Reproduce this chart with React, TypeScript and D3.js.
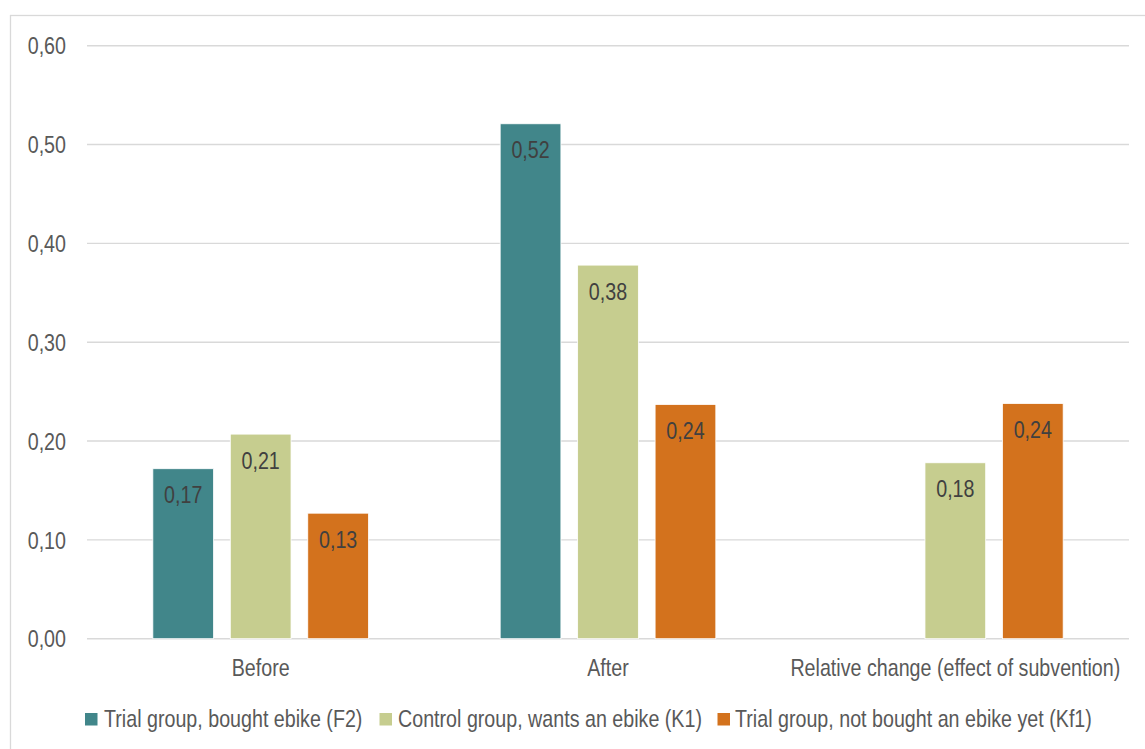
import React from "react";
import * as d3 from "d3";

const categories = ["Before", "After", "Relative change (effect of subvention)"];
const seriesNames = [
  "Trial group, bought ebike (F2)",
  "Control group, wants an ebike (K1)",
  "Trial group, not bought an ebike yet (Kf1)",
];
const seriesColors = ["#41868A", "#C6CD8F", "#D3721D"];
// values per series, one per category (null = no bar)
const trialBought: (number | null)[] = [0.172, 0.521, null];
const controlWants: (number | null)[] = [0.207, 0.378, 0.178];
const trialNotBought: (number | null)[] = [0.127, 0.237, 0.238];
const seriesValues = [trialBought, controlWants, trialNotBought];
const yTicks = [0, 0.1, 0.2, 0.3, 0.4, 0.5, 0.6];

const W = 1145;
const H = 749;
const FONT = "'Liberation Sans', Arial, sans-serif";
const NARROW = 0.82;
const fmt = (v: number) => v.toFixed(2).replace(".", ",");

// Narrow text: a regular sans horizontally condensed
function NText(props: {
  x: number;
  y: number;
  anchor?: "start" | "middle" | "end";
  fill: string;
  size?: number;
  dy?: string;
  children: React.ReactNode;
}) {
  const { x, y, anchor = "start", fill, size = 24, dy, children } = props;
  return (
    <g transform={`translate(${x},${y}) scale(${NARROW},1)`}>
      <text x={0} y={0} dy={dy} textAnchor={anchor} fontFamily={FONT} fontSize={size} fill={fill}>
        {children}
      </text>
    </g>
  );
}

export default function App() {
  const plotLeft = 87;
  const plotRight = 1129;
  const y = d3.scaleLinear().domain([0, 0.6]).range([638.7, 45.7]);
  const x0 = d3.scaleBand<string>().domain(categories).range([plotLeft, plotRight]).padding(0);
  const x1 = d3
    .scaleBand<string>()
    .domain(seriesNames)
    .range([0, x0.bandwidth()])
    .paddingInner(0.216)
    .paddingOuter(0.85);

  const legendItems = [
    { sq: 85, tx: 104 },
    { sq: 379.5, tx: 398 },
    { sq: 717.5, tx: 735 },
  ];

  return (
    <div style={{ position: "absolute", left: 0, top: 0 }}>
      <svg width={W} height={H} style={{ display: "block", background: "#fff" }}>
        <rect x={10.5} y={15.5} width={W + 10} height={H + 10} fill="#fff" stroke="#d9d9d9" strokeWidth={1.3} />
        {yTicks.map((t) => (
          <g key={t}>
            <line x1={plotLeft} x2={plotRight} y1={y(t)} y2={y(t)} stroke="#d9d9d9" strokeWidth={1.4} />
            <NText x={66} y={y(t)} dy="0.36em" anchor="end" fill="#595959">
              {fmt(t)}
            </NText>
          </g>
        ))}
        {categories.map((c, ci) => (
          <g key={c} transform={`translate(${x0(c)},0)`}>
            {seriesNames.map((s, si) => {
              const v = seriesValues[si][ci];
              if (v == null) return null;
              const bx = x1(s) as number;
              const bw = x1.bandwidth();
              return (
                <g key={s}>
                  <rect
                    x={bx}
                    y={y(v)}
                    width={bw}
                    height={y(0) - y(v)}
                    fill={seriesColors[si]}
                    stroke="#fff"
                    strokeWidth={0.8}
                  />
                  <NText x={bx + bw / 2} y={y(v) + 34.5} anchor="middle" fill="#404040">
                    {fmt(v)}
                  </NText>
                </g>
              );
            })}
            <NText x={x0.bandwidth() / 2} y={676} anchor="middle" fill="#595959">
              {c}
            </NText>
          </g>
        ))}
        {seriesNames.map((s, si) => (
          <g key={s}>
            <rect x={legendItems[si].sq} y={713} width={12.5} height={12.5} fill={seriesColors[si]} />
            <NText x={legendItems[si].tx} y={727} fill="#595959">
              {s}
            </NText>
          </g>
        ))}
      </svg>
    </div>
  );
}
